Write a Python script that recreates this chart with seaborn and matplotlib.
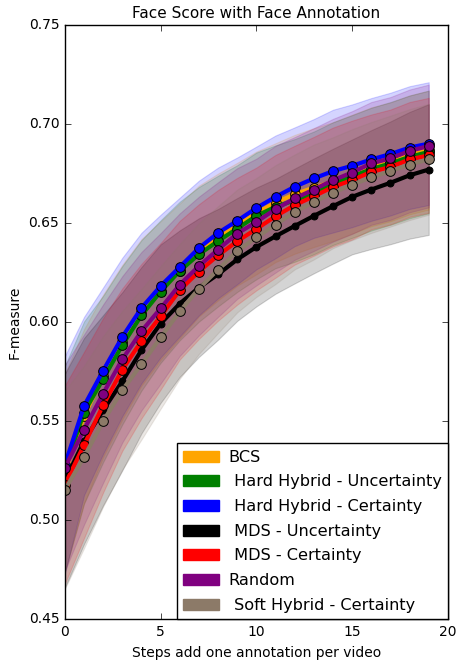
import numpy as np
import pandas as pd
import seaborn as sns
import matplotlib.pyplot as plt
from matplotlib.patches import Patch

plt.style.use('classic')

steps = list(range(20))

methods = ["BCS", " Hard Hybrid - Uncertainty", " Hard Hybrid - Certainty",
           " MDS - Uncertainty", " MDS - Certainty", "Random",
           " Soft Hybrid - Certainty"]
colors = ["orange", "green", "blue", "black", "red", "purple", "#8c7a68"]

# moyennes
bcs = [0.524, 0.5525, 0.573, 0.590, 0.605, 0.616, 0.626, 0.636, 0.6431, 0.6495,
       0.6552, 0.6604, 0.6646, 0.668, 0.671, 0.6748, 0.6785, 0.681, 0.6845, 0.6869]
hh_unc = [0.526, 0.5544, 0.5714, 0.5884, 0.6035, 0.6155, 0.6259, 0.6343, 0.641, 0.6473,
          0.6537, 0.6583, 0.6615, 0.6653, 0.670, 0.6736, 0.6773, 0.6802, 0.6835, 0.686]
hh_cert = [0.528, 0.5577, 0.5756, 0.5926, 0.6072, 0.6183, 0.6279, 0.6375, 0.6451, 0.6512,
           0.6577, 0.6633, 0.6684, 0.6726, 0.6763, 0.679, 0.6822, 0.6849, 0.6882, 0.6902]
mds_unc = [0.520, 0.540, 0.5556, 0.5702, 0.5859, 0.5993, 0.6094, 0.6175, 0.6242, 0.6317,
           0.638, 0.6434, 0.6486, 0.6537, 0.6586, 0.6633, 0.667, 0.6704, 0.6742, 0.6771]
mds_cert = [0.518, 0.538, 0.5581, 0.5761, 0.5905, 0.603, 0.6162, 0.6256, 0.6338, 0.6409,
            0.6471, 0.6535, 0.6591, 0.6636, 0.6683, 0.6718, 0.6759, 0.6784, 0.6822, 0.6843]
rand = [0.5265, 0.5458, 0.564, 0.5813, 0.5955, 0.607, 0.619, 0.6284, 0.6367, 0.6448,
        0.6506, 0.6571, 0.6625, 0.667, 0.6717, 0.6756, 0.6802, 0.6827, 0.6865, 0.689]
soft_cert = [0.5154, 0.5319, 0.550, 0.5657, 0.5788, 0.5923, 0.6055, 0.617, 0.6266, 0.636,
             0.6428, 0.6493, 0.6557, 0.6607, 0.6654, 0.6695, 0.6731, 0.6763, 0.6796, 0.6823]

# ecarts-types (bandes)
std_bcs = [0.050, 0.044, 0.041, 0.039, 0.037, 0.035, 0.034, 0.033, 0.032, 0.031,
           0.031, 0.030, 0.030, 0.030, 0.030, 0.030, 0.030, 0.030, 0.030, 0.030]
std_hh_unc = [0.052, 0.046, 0.042, 0.040, 0.038, 0.036, 0.035, 0.034, 0.033, 0.032,
              0.032, 0.031, 0.031, 0.031, 0.031, 0.031, 0.031, 0.031, 0.031, 0.031]
std_hh_cert = [0.055, 0.045, 0.042, 0.040, 0.038, 0.036, 0.035, 0.034, 0.033, 0.032,
               0.031, 0.031, 0.030, 0.030, 0.031, 0.031, 0.031, 0.031, 0.031, 0.031]
std_mds_unc = [0.054, 0.052, 0.048, 0.045, 0.042, 0.040, 0.037, 0.035, 0.033, 0.031,
               0.030, 0.029, 0.029, 0.029, 0.029, 0.029, 0.030, 0.031, 0.032, 0.033]
std_mds_cert = [0.050, 0.047, 0.044, 0.041, 0.039, 0.037, 0.035, 0.034, 0.033, 0.032,
                0.031, 0.031, 0.030, 0.030, 0.030, 0.030, 0.029, 0.029, 0.029, 0.029]
std_rand = [0.052, 0.048, 0.045, 0.042, 0.040, 0.038, 0.036, 0.035, 0.034, 0.033,
            0.032, 0.032, 0.031, 0.031, 0.031, 0.031, 0.031, 0.031, 0.031, 0.031]
std_soft = [0.050, 0.046, 0.043, 0.040, 0.038, 0.036, 0.034, 0.033, 0.032, 0.031,
            0.030, 0.030, 0.029, 0.029, 0.028, 0.028, 0.028, 0.028, 0.028, 0.028]

means = [bcs, hh_unc, hh_cert, mds_unc, mds_cert, rand, soft_cert]
stds = [std_bcs, std_hh_unc, std_hh_cert, std_mds_unc, std_mds_cert, std_rand, std_soft]

fig = plt.figure(figsize=(4.57, 6.63), dpi=100, facecolor='white')
ax = fig.add_axes([0.142, 0.066, 0.838, 0.896])
ax.set_facecolor('white')

for name, col, m, s in zip(methods, colors, means, stds):
    m = np.array(m)
    s = np.array(s)
    ax.fill_between(steps, m - s, m + s, color=col, alpha=0.17, linewidth=0.8)

for name, col, m in zip(methods, colors, means):
    df = pd.DataFrame({'step': steps, 'f': m})
    ms = 5 if col == "black" else 7
    sns.lineplot(data=df, x='step', y='f', color=col, marker='o', markersize=ms,
                 linewidth=3, markeredgecolor='black', markeredgewidth=0.7, ax=ax)

ax.set_xlim(0, 20)
ax.set_ylim(0.45, 0.75)
ax.set_xticks([0, 5, 10, 15, 20])
ax.set_yticks(np.arange(0.45, 0.751, 0.05))
ax.set_yticklabels([f"{v:.2f}" for v in np.arange(0.45, 0.751, 0.05)])
ax.tick_params(labelsize=10)
ax.set_xlabel("Steps add one annotation per video", fontsize=10)
ax.set_ylabel("F-measure", fontsize=10)
ax.set_title("Face Score with Face Annotation", fontsize=11)

handles = [Patch(facecolor=c, edgecolor=c, label=n) for n, c in zip(methods, colors)]
leg = ax.legend(handles=handles, loc='lower right', fontsize=11.6, borderaxespad=0,
                labelspacing=0.6, handlelength=2.2, handletextpad=0.6, fancybox=False)
leg.get_frame().set_edgecolor('black')

fig.savefig("out.png", dpi=100, facecolor='white')
